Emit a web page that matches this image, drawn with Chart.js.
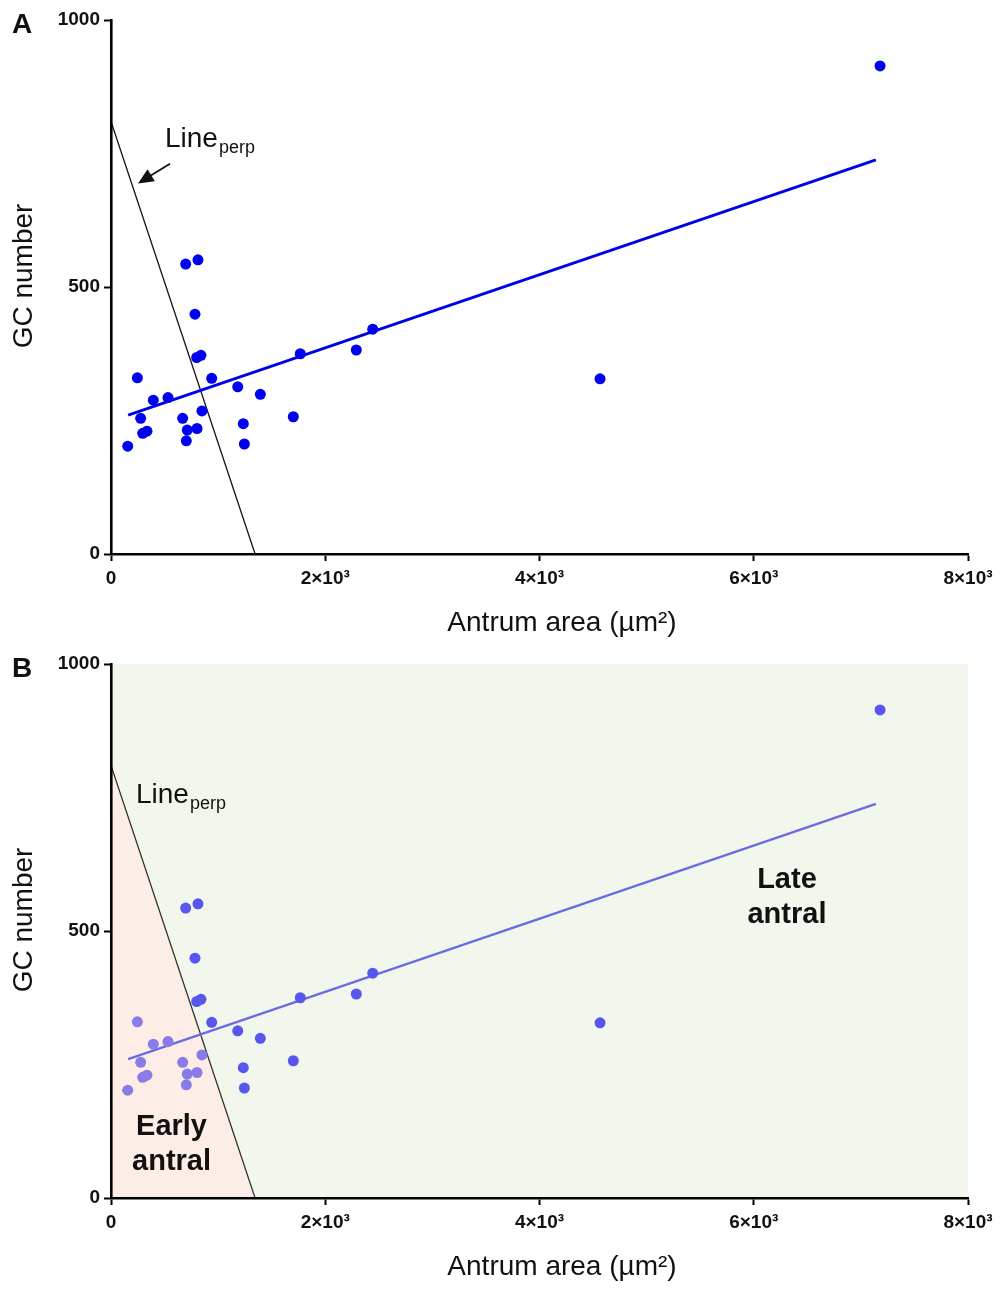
<!DOCTYPE html>
<html>
<head>
<meta charset="utf-8">
<script src="https://cdn.jsdelivr.net/npm/chart.js@4/dist/chart.umd.min.js"></script>
<style>
  html, body { margin: 0; padding: 0; background: #fff; }
  canvas { display: block; }
</style>
</head>
<body>
<canvas id="panelA" width="1000" height="644"></canvas>
<canvas id="panelB" width="1000" height="645"></canvas>
<script>
// antrum area (µm²) vs granulosa cell count, one entry per follicle
const antrumArea = [156, 246, 277, 296, 336, 395, 532, 669, 697, 703, 712, 812, 784, 803,
                    800, 840, 849, 940, 1183, 1235, 1245, 1394, 1702, 1767, 2290, 2443, 4565, 7179];
const gcNumber   = [202, 330, 254, 226, 230, 288, 293, 254, 543, 212, 232, 551, 449, 235,
                    368, 372, 268, 329, 313, 244, 206, 299, 257, 375, 382, 421, 328, 914];

// fitted line (end points of the regression)
const fitX = [160, 7140];
const fitY = [260, 738];

// Line_perp: crosses the y axis and the x axis
const perpX = [0, 1345];
const perpY = [810, 0];

const xTicks = [0, 2000, 4000, 6000, 8000];
const yTicks = [0, 500, 1000];

const FONT = "'Liberation Sans', Arial, Helvetica, sans-serif";

const points = antrumArea.map((a, i) => ({ x: a, y: gcNumber[i] }));
const fitLine = fitX.map((a, i) => ({ x: a, y: fitY[i] }));
const perpLine = perpX.map((a, i) => ({ x: a, y: perpY[i] }));

// a follicle is "early" when it sits below/left of Line_perp
const isEarly = p => p.x / perpX[1] + p.y / perpY[0] < 1;

const xTickLabel = v => v === 0 ? '0' : (v / 1000) + '×10³';

// text, arrow and axis titles drawn on top of each panel
const panelText = {
  id: 'panelText',
  afterDraw(chart, args, opts) {
    const { ctx, scales: { x, y } } = chart;
    ctx.save();
    ctx.fillStyle = '#111';

    // panel letter
    ctx.font = 'bold 28px ' + FONT;
    ctx.textAlign = 'left';
    ctx.textBaseline = 'alphabetic';
    ctx.fillText(opts.letter, 12, 33);

    // axis titles
    ctx.font = '28px ' + FONT;
    ctx.textAlign = 'center';
    ctx.textBaseline = 'middle';
    ctx.fillText('Antrum area (µm²)', 562, 623);
    ctx.save();
    ctx.translate(24, 276);
    ctx.rotate(-Math.PI / 2);
    ctx.fillText('GC number', 0, 0);
    ctx.restore();

    // Line_perp label
    const lx = x.getPixelForValue(opts.perpLabel[0]);
    const ly = y.getPixelForValue(opts.perpLabel[1]);
    ctx.textAlign = 'left';
    ctx.textBaseline = 'alphabetic';
    ctx.font = '28px ' + FONT;
    ctx.fillText('Line', lx, ly);
    const w = ctx.measureText('Line').width;
    ctx.font = '18px ' + FONT;
    ctx.fillText('perp', lx + w + 1, ly + 6);

    // arrow pointing at the line
    if (opts.arrow) {
      const [x0, y0, x1, y1] = opts.arrow;
      const ax = x.getPixelForValue(x0), ay = y.getPixelForValue(y0);
      const bx = x.getPixelForValue(x1), by = y.getPixelForValue(y1);
      const ang = Math.atan2(by - ay, bx - ax);
      const head = 17;
      ctx.strokeStyle = '#111';
      ctx.lineWidth = 1.8;
      ctx.beginPath();
      ctx.moveTo(ax, ay);
      ctx.lineTo(bx - Math.cos(ang) * head * 0.8, by - Math.sin(ang) * head * 0.8);
      ctx.stroke();
      ctx.beginPath();
      ctx.moveTo(bx, by);
      ctx.lineTo(bx - head * Math.cos(ang - 0.42), by - head * Math.sin(ang - 0.42));
      ctx.lineTo(bx - head * Math.cos(ang + 0.42), by - head * Math.sin(ang + 0.42));
      ctx.closePath();
      ctx.fill();
    }

    // region names
    ctx.font = 'bold 29px ' + FONT;
    ctx.textAlign = 'center';
    (opts.regions || []).forEach(r => {
      const px = x.getPixelForValue(r.at[0]);
      const py = y.getPixelForValue(r.at[1]);
      r.lines.forEach((t, i) => ctx.fillText(t, px, py + i * 35));
    });
    ctx.restore();
  }
};

// axis line and tick marks sit above the shaded regions
const axisStyle = {
  border: { color: '#000', width: 2.6, z: 1 },
  grid: { drawOnChartArea: false, drawTicks: true, tickLength: 7, tickColor: '#000', tickWidth: 2, z: 1 }
};

function makePanel(id, height, cfg) {
  const axisBox = height - 5 - 554;
  return new Chart(document.getElementById(id), {
    type: 'scatter',
    data: { datasets: cfg.datasets },
    options: {
      responsive: false,
      animation: false,
      events: [],
      layout: { padding: { left: 0, right: 32, top: 20, bottom: 5 } },
      plugins: {
        legend: { display: false },
        tooltip: { enabled: false },
        panelText: cfg.text
      },
      scales: {
        x: {
          type: 'linear',
          min: 0, max: 8000,
          afterFit: s => { s.height = axisBox; },
          afterBuildTicks: s => { s.ticks = xTicks.map(v => ({ value: v })); },
          ...axisStyle,
          ticks: {
            color: '#111', padding: 6, maxRotation: 0, z: 1,
            font: { family: FONT, size: 19, weight: 'bold' },
            callback: xTickLabel
          }
        },
        y: {
          type: 'linear',
          min: 0, max: 1000,
          afterFit: s => { s.width = 111; },
          afterBuildTicks: s => { s.ticks = yTicks.map(v => ({ value: v })); },
          ...axisStyle,
          ticks: {
            color: '#111', padding: 4, z: 1,
            font: { family: FONT, size: 19, weight: 'bold' },
            callback: v => String(v)
          }
        }
      }
    },
    plugins: [panelText]
  });
}

// Panel A: data with regression and Line_perp
makePanel('panelA', 644, {
  datasets: [
    { data: points, order: 0, pointRadius: 5.5, pointBackgroundColor: '#0000f0', pointBorderWidth: 0 },
    { type: 'line', data: fitLine, order: 1, borderColor: '#0000e6', borderWidth: 2.8, pointRadius: 0, fill: false },
    { type: 'line', data: perpLine, order: 2, borderColor: '#111', borderWidth: 1.3, pointRadius: 0, fill: false }
  ],
  text: { letter: 'A', perpLabel: [504, 762], arrow: [551, 731, 252, 694] }
});

// Panel B: same data with early / late antral regions shaded
makePanel('panelB', 645, {
  datasets: [
    {
      data: points, order: 0, pointRadius: 5.5, pointBorderWidth: 0,
      pointBackgroundColor: c => isEarly(c.raw) ? '#8a7ce8' : '#5757ee'
    },
    { type: 'line', data: fitLine, order: 1, borderColor: '#6a6ae4', borderWidth: 2.2, pointRadius: 0, fill: false },
    { type: 'line', data: perpLine, order: 2, borderColor: '#333', borderWidth: 1.3, pointRadius: 0,
      fill: 'origin', backgroundColor: '#fcede6' },
    { type: 'line', data: [{ x: 0, y: 1000 }, { x: 8000, y: 1000 }], order: 3, borderWidth: 0,
      pointRadius: 0, fill: 'origin', backgroundColor: '#f1f7ed' }
  ],
  text: {
    letter: 'B', perpLabel: [233, 740],
    regions: [
      { lines: ['Late', 'antral'], at: [6310, 580] },
      { lines: ['Early', 'antral'], at: [565, 118] }
    ]
  }
});
</script>
</body>
</html>
